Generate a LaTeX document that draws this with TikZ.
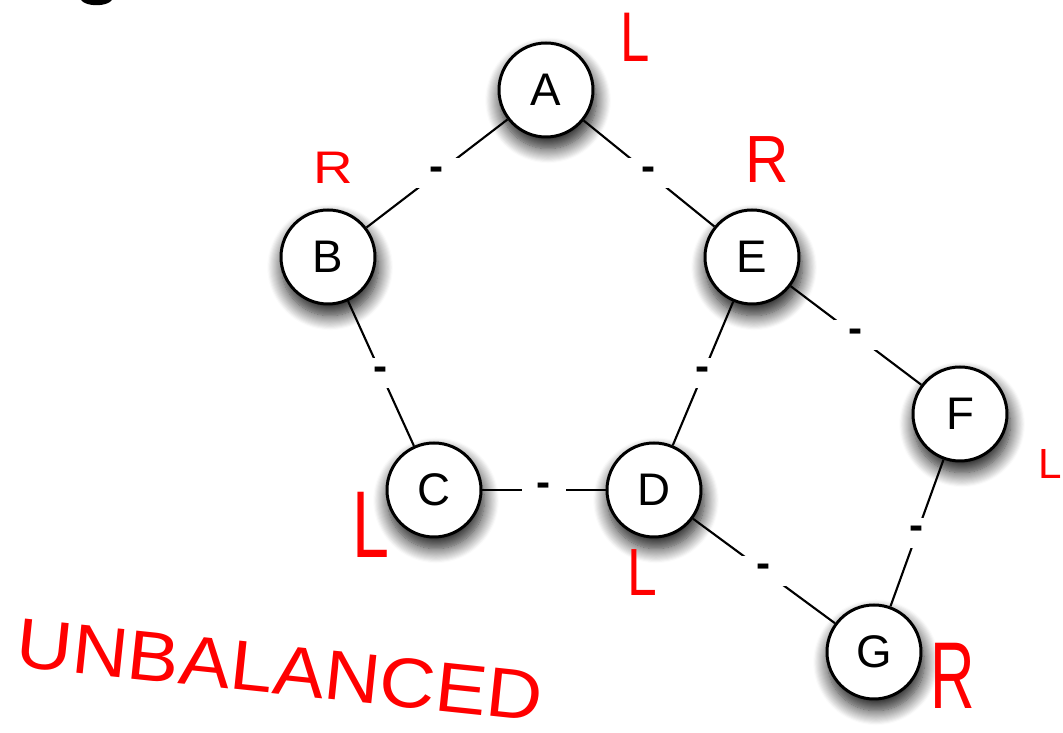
\documentclass[tikz,border=0pt]{standalone}
\usepackage{fontspec}
\setmainfont{Liberation Sans}
\usetikzlibrary{positioning}
\usetikzlibrary{shadows.blur}

\begin{document}
\begin{tikzpicture}[x=0.1mm, y=-0.1mm, semithick,
    main/.style = {draw, circle, fill=white, line width=0.85pt, minimum size=9.4mm, inner sep=0pt,
                   font=\fontsize{13}{13}\selectfont,
                   blur shadow={shadow xshift=0.2mm, shadow yshift=-1mm, shadow scale=1.03,
                                shadow blur radius=1.4mm, shadow blur steps=14, shadow opacity=90}},
    gap/.style = {fill=white, inner sep=0pt, minimum width=4.5mm, minimum height=3mm,
                  font=\fontsize{12}{12}\bfseries},
    side/.style = {text=red, inner sep=0pt}]
    \useasboundingbox (0,0) rectangle (1063,733);
    \clip (0,0) rectangle (1063,733);

    % bit of the heading above
    \fill (81,0) .. controls (86,7) and (107,7) .. (112,0) -- cycle;

    % the tree
    \node[main] (A) at (546,90) {A};
    \node[main] (B) at (328,257) {B};
    \node[main] (E) at (752,257) {E};
    \node[main] (C) at (434,490) {C};
    \node[main] (D) at (654,490) {D};
    \node[main] (F) at (960,414) {F};
    \node[main] (G) at (874,652) {G};

    \draw (A) -- node[gap] {-} (B);
    \draw (A) -- node[gap] {-} (E);
    \draw (B) -- node[gap] {-} (C);
    \draw (C) -- node[gap] {-} (D);
    \draw (E) -- node[gap] {-} (D);
    \draw (E) -- node[gap] {-} (F);
    \draw (D) -- node[gap] {-} (G);
    \draw (F) -- node[gap] {-} (G);

    % left / right marks
    \node[side, xscale=0.75, font=\fontsize{20}{20}\selectfont] (lA) at (635,37) {L};
    \node[side, xscale=1.2, font=\fontsize{13}{13}\selectfont] (rB) at (333,168) {R};
    \node[side, xscale=0.9, font=\fontsize{19}{19}\selectfont] (rE) at (767,160) {R};
    \node[side, font=\fontsize{12}{12}\selectfont] (lF) at (1050,464) {L};
    \node[side, xscale=0.7, font=\fontsize{27}{27}\selectfont] (lC) at (371,525) {L};
    \node[side, xscale=0.8, font=\fontsize{19}{19}\selectfont] (lD) at (642,573) {L};
    \node[side, xscale=0.65, font=\fontsize{27}{27}\selectfont] (rG) at (953,676) {R};

    \node[side, rotate=-6, xscale=1.1, font=\fontsize{20}{20}\selectfont] (unbal) at (280,670) {UNBALANCED};
\end{tikzpicture}
\end{document}
